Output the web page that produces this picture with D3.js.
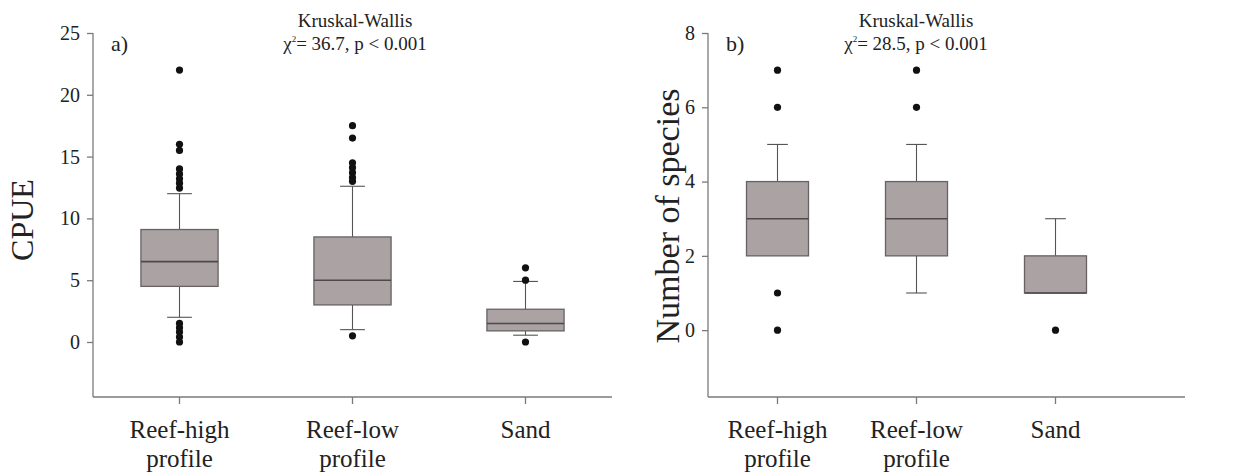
<!DOCTYPE html>
<html>
<head>
<meta charset="utf-8">
<script src="https://cdn.jsdelivr.net/npm/d3@7"></script>
<style>
  html, body { margin: 0; padding: 0; background: #fff; }
  text, tspan { font-family: "Liberation Serif", "Times New Roman", Times, serif !important; fill: #222; }
</style>
</head>
<body>
<svg id="chart" width="1252" height="473" font-family="Liberation Serif, serif"></svg>
<script>
// Habitat categories shared by both panels
const categories = ["Reef-high profile", "Reef-low profile", "Sand"];

// Panel a: CPUE box summaries per habitat
const cpueQ1 = [4.5, 3.0, 0.9];
const cpueMedian = [6.5, 5.0, 1.5];
const cpueQ3 = [9.1, 8.5, 2.65];
const cpueWhiskerLow = [2.0, 1.0, 0.55];
const cpueWhiskerHigh = [12.0, 12.6, 4.9];
const cpueOutliers = [
  [22, 16, 15.5, 14, 13.6, 13.2, 12.85, 12.45, 1.5, 1.15, 0.8, 0.4, 0],
  [17.5, 16.5, 14.5, 14.1, 13.7, 13.3, 13.0, 0.5],
  [6, 5, 0]
];
const cpueTicks = [0, 5, 10, 15, 20, 25];

// Panel b: number of species per habitat
const sppQ1 = [2, 2, 1];
const sppMedian = [3, 3, 1];
const sppQ3 = [4, 4, 2];
const sppWhiskerLow = [2, 1, 1];
const sppWhiskerHigh = [5, 5, 3];
const sppOutliers = [[7, 6, 1, 0], [7, 6], [0]];
const sppTicks = [0, 2, 4, 6, 8];

const svg = d3.select("#chart");
const serif = "Liberation Serif";
const axisColor = "#7a7a7a";
const boxFill = "#aaa2a3";
const boxStroke = "#676263";

function panel(opts) {
  const g = svg.append("g").attr("font-family", serif);
  const x = d3.scaleBand().domain(categories).range([opts.left, opts.right]).paddingInner(0).paddingOuter(0);
  const y = d3.scaleLinear().domain(opts.yDomain).range([opts.bottom, opts.top]);
  const step = x.bandwidth();
  const bw = step * 0.446;
  const cw = step * 0.12;
  const cx = c => x(c) + step / 2;

  // y axis
  const yAxis = d3.axisLeft(y).tickValues(opts.ticks).tickSize(6).tickPadding(7).tickSizeOuter(0);
  const ya = g.append("g").attr("transform", `translate(${opts.left},0)`).call(yAxis)
    .attr("font-family", serif).attr("font-size", 20);
  ya.select(".domain").attr("d", `M0,${y(opts.ticks[opts.ticks.length - 1])}V${opts.bottom}`);
  ya.selectAll("path,line").attr("stroke", axisColor).attr("stroke-width", 1.3);
  ya.selectAll("text").attr("font-size", 20).attr("fill", "#2a2a2a").attr("font-family", serif);

  // x axis
  const xa = g.append("g").attr("transform", `translate(0,${opts.bottom})`)
    .call(d3.axisBottom(x).tickSize(7).tickSizeOuter(0).tickFormat(""));
  xa.select(".domain").attr("d", `M${opts.left},0H${opts.axisEnd}`);
  xa.selectAll("path,line").attr("stroke", axisColor).attr("stroke-width", 1.3);

  // category labels on two lines
  categories.forEach(c => {
    const parts = c === "Sand" ? ["Sand"] : [c.replace(" profile", ""), "profile"];
    const t = g.append("text").attr("x", cx(c)).attr("y", opts.bottom + 41)
      .attr("text-anchor", "middle").attr("font-size", 25).attr("font-family", serif);
    parts.forEach((p, i) => t.append("tspan").attr("x", cx(c)).attr("dy", i ? 29 : 0).text(p));
  });

  // boxes
  categories.forEach((c, i) => {
    const xc = cx(c);
    const line = (x1, y1, x2, y2, w, col) => g.append("line")
      .attr("x1", x1).attr("y1", y1).attr("x2", x2).attr("y2", y2)
      .attr("stroke", col || "#555").attr("stroke-width", w || 1.1);
    if (opts.wHi[i] > opts.q3[i]) {
      line(xc, y(opts.q3[i]), xc, y(opts.wHi[i]));
      line(xc - cw / 2 - 2, y(opts.wHi[i]), xc + cw / 2 + 2, y(opts.wHi[i]));
    }
    if (opts.wLo[i] < opts.q1[i]) {
      line(xc, y(opts.q1[i]), xc, y(opts.wLo[i]));
      line(xc - cw / 2 - 2, y(opts.wLo[i]), xc + cw / 2 + 2, y(opts.wLo[i]));
    }
    g.append("rect").attr("x", xc - bw / 2).attr("y", y(opts.q3[i]))
      .attr("width", bw).attr("height", y(opts.q1[i]) - y(opts.q3[i]))
      .attr("fill", boxFill).attr("stroke", boxStroke).attr("stroke-width", 1.3);
    line(xc - bw / 2, y(opts.med[i]), xc + bw / 2, y(opts.med[i]), 1.6, "#4e4a4b");
    g.selectAll(null).data(opts.out[i]).enter().append("circle")
      .attr("cx", xc).attr("cy", d => y(d)).attr("r", 3.6).attr("fill", "#111");
  });

  // panel letter
  g.append("text").attr("x", opts.left + 18).attr("y", 51).attr("font-size", 22)
    .attr("font-family", serif).text(opts.letter);

  // test statistic
  g.append("text").attr("x", opts.statX).attr("y", 27).attr("text-anchor", "middle")
    .attr("font-size", 19).attr("font-family", serif).text("Kruskal-Wallis");
  const st = g.append("text").attr("x", opts.statX).attr("y", 50).attr("text-anchor", "middle")
    .attr("font-size", 19).attr("font-family", serif);
  st.append("tspan").text("\u03C7");
  st.append("tspan").attr("font-size", 9).attr("dy", -8).text("2");
  st.append("tspan").attr("dy", 8).text("= " + opts.stat + ", p < 0.001");

  // y title
  g.append("text").attr("transform", `translate(${opts.titleX},${opts.titleY}) rotate(-90)`)
    .attr("text-anchor", "middle").attr("font-size", opts.titleSize)
    .attr("font-family", serif).text(opts.title);
}

panel({
  left: 93, right: 612, axisEnd: 612, top: 33, bottom: 397,
  yDomain: [-4.45, 25], ticks: cpueTicks,
  q1: cpueQ1, med: cpueMedian, q3: cpueQ3, wLo: cpueWhiskerLow, wHi: cpueWhiskerHigh, out: cpueOutliers,
  letter: "a)", stat: "36.7", statX: 355,
  title: "CPUE", titleX: 33, titleY: 220, titleSize: 32
});

panel({
  left: 708, right: 1125, axisEnd: 1185, top: 33, bottom: 397,
  yDomain: [-1.8, 8], ticks: sppTicks,
  q1: sppQ1, med: sppMedian, q3: sppQ3, wLo: sppWhiskerLow, wHi: sppWhiskerHigh, out: sppOutliers,
  letter: "b)", stat: "28.5", statX: 916,
  title: "Number of species", titleX: 679, titleY: 216, titleSize: 34
});
</script>
</body>
</html>
